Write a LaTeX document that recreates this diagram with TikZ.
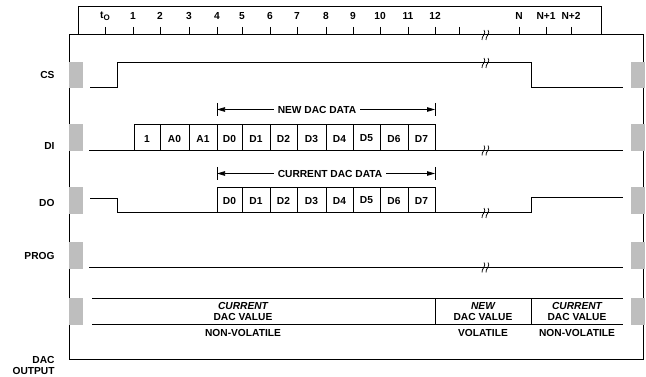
\documentclass[tikz,border=0pt]{standalone}
\usepackage{fontspec}
\setmainfont{Liberation Sans}
\usetikzlibrary{arrows.meta}
\definecolor{bargray}{RGB}{190,190,190}
\begin{document}
\begin{tikzpicture}[x=1pt,y=-1pt,line width=1pt,
  txt/.style={font=\bfseries\fontsize{10.2}{11}\selectfont,inner sep=0pt},
  itxt/.style={font=\bfseries\itshape\fontsize{10.2}{11}\selectfont,inner sep=0pt},
  lbl/.style={txt,anchor=east},
  gbar/.style={fill=bargray,draw=none},
  dimarrow/.style={{Triangle[length=8pt,width=4.5pt]}-{Triangle[length=8pt,width=4.5pt]},line width=0.75pt},
  brk/.pic={\draw[line width=0.75pt] (-1,-5) .. controls (2,-2) and (-4,2) .. (-3,5);
            \draw[line width=0.75pt] (3,-5) .. controls (6,-2) and (0,2) .. (1,5);}]
\useasboundingbox (0,0) rectangle (646,377);
% frames
\draw (78,35) -- (78,7) -- (601,7) -- (601,35);
\draw (69,35) rectangle (643,359);
% ticks
\foreach \x/\t in {105/{t\raisebox{-2pt}{\fontsize{8}{8}\selectfont O}},133/1,160/2,189/3,217/4,242/5,270/6,297/7,326/8,353/9,380/10,408/11,435/12,519/N,546/N+1,571/N+2}{
  \draw (\x,27) -- (\x,35);
  \node[txt] at (\x,16) {\t};
}
\draw (459,27) -- (459,35);
\pic at (485,35) {brk};
% left labels
\node[lbl] (cs) at (55,75) {CS};
\node[lbl] (di) at (55,146) {DI};
\node[lbl] (do) at (55,203) {DO};
\node[lbl] (prog) at (55,256) {PROG};
\node[lbl] (dac) at (55,360) {DAC};
\node[lbl] (out) at (55,371) {OUTPUT};
% gray bars
\foreach \ya/\yb in {62/88,124/151,187/214,242/269,298/325}{
  \fill[bargray] (69,\ya) rectangle (83,\yb);
  \fill[bargray] (631,\ya) rectangle (645,\yb);
}
% CS
\draw (90,88) -- (117,88) -- (117,63) -- (531,63) -- (531,88) -- (623,88);
\pic at (485,63) {brk};
% DI
\draw (89,150.5) -- (134,150.5) -- (134,125);
\foreach \a/\b/\t [count=\i] in {134/160/1,160/189/A0,189/217/A1,217/242/D0,242/270/D1,270/297/D2,297/326/D3,326/353/D4,353/380/D5,380/408/D6,408/435/D7}{
  \draw (\a,125) rectangle (\b,150.5);
  \node[txt] (di\i) at ({(\a+\b)/2},138.5) {\t};
}
\draw (435,150.5) -- (623,150.5);
\pic at (485,150.5) {brk};
% NEW DAC DATA
\draw[line width=0.75pt] (217,103) -- (217,116);
\draw[line width=0.75pt] (435,103) -- (435,116);
\draw[dimarrow] (217,109.5) -- (435,109.5);
\node[txt,fill=white,inner xsep=4pt,inner ysep=1pt] (newdata) at (317,109.5) {NEW DAC DATA};
% CURRENT DAC DATA
\draw[line width=0.75pt] (217,167) -- (217,180);
\draw[line width=0.75pt] (435,167) -- (435,180);
\draw[dimarrow] (217,173.5) -- (435,173.5);
\node[txt,fill=white,inner xsep=4pt,inner ysep=1pt] (curdata) at (330,173.5) {CURRENT DAC DATA};
% DO
\draw (90,199) -- (117,199) -- (117,213) -- (217,213);
\foreach \a/\b/\t [count=\i] in {217/242/D0,242/270/D1,270/297/D2,297/326/D3,326/353/D4,353/380/D5,380/408/D6,408/435/D7}{
  \draw (\a,187.5) rectangle (\b,213);
  \node[txt] (do\i) at ({(\a+\b)/2},200.5) {\t};
}
\draw (435,213) -- (531,213) -- (531,198) -- (623,198);
\pic at (485,213) {brk};
% PROG
\draw (89,267.5) -- (623,267.5);
\pic at (485,267.5) {brk};
% DAC OUTPUT
\draw (92,298) -- (623,298);
\draw (92,324) -- (623,324);
\draw (435,298) -- (435,324);
\draw (531,298) -- (531,324);
\node[itxt] (c1) at (243,305.5) {CURRENT};
\node[txt] (v1) at (243,316.5) {DAC VALUE};
\node[txt] (nv1) at (243,332.5) {NON-VOLATILE};
\node[itxt] (c2) at (483,305.5) {NEW};
\node[txt] (v2) at (483,316.5) {DAC VALUE};
\node[txt] (nv2) at (483,332.5) {VOLATILE};
\node[itxt] (c3) at (577,305.5) {CURRENT};
\node[txt] (v3) at (577,316.5) {DAC VALUE};
\node[txt] (nv3) at (577,332.5) {NON-VOLATILE};
\end{tikzpicture}
\end{document}
